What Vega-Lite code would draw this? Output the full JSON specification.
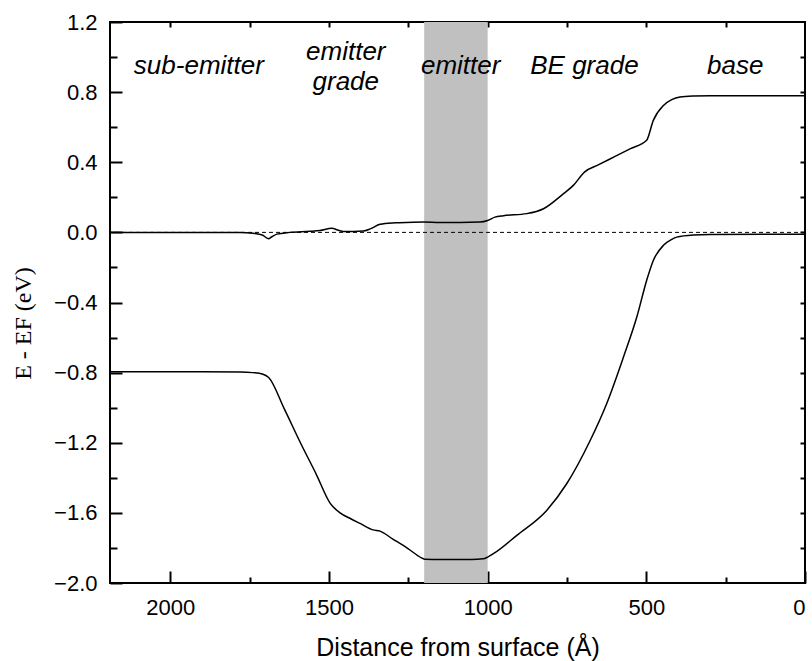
{
  "$schema": "https://vega.github.io/schema/vega-lite/v6.json",
  "width": 695,
  "height": 561,
  "autosize": "none",
  "padding": {"left": 110, "top": 22, "right": 7, "bottom": 78},
  "background": "white",
  "config": {
    "view": {"stroke": "black", "strokeWidth": 2},
    "axis": {
      "grid": false,
      "ticks": true,
      "domain": false,
      "labelFont": "Liberation Sans",
      "labelFontSize": 22,
      "labelColor": "black",
      "tickColor": "black",
      "tickWidth": 2,
      "titleColor": "black",
      "titleFontWeight": "normal",
      "zindex": 2
    }
  },
  "datasets": {
    "layers": [{"start": 1200, "end": 1000}],
    "fermi": [{"v": 0}],
    "bands": [
      {"band": "valence", "x": 2190, "v": -0.795},
      {"band": "valence", "x": 1900, "v": -0.795},
      {"band": "valence", "x": 1780, "v": -0.796},
      {"band": "valence", "x": 1740, "v": -0.8},
      {"band": "valence", "x": 1710, "v": -0.808},
      {"band": "valence", "x": 1690, "v": -0.828},
      {"band": "valence", "x": 1640, "v": -1.01},
      {"band": "valence", "x": 1590, "v": -1.2},
      {"band": "valence", "x": 1540, "v": -1.38},
      {"band": "valence", "x": 1496, "v": -1.546},
      {"band": "valence", "x": 1465, "v": -1.6},
      {"band": "valence", "x": 1430, "v": -1.635},
      {"band": "valence", "x": 1402, "v": -1.66},
      {"band": "valence", "x": 1361, "v": -1.697},
      {"band": "valence", "x": 1339, "v": -1.704},
      {"band": "valence", "x": 1300, "v": -1.748},
      {"band": "valence", "x": 1250, "v": -1.805},
      {"band": "valence", "x": 1210, "v": -1.855},
      {"band": "valence", "x": 1197, "v": -1.865},
      {"band": "valence", "x": 1150, "v": -1.866},
      {"band": "valence", "x": 1050, "v": -1.866},
      {"band": "valence", "x": 1014, "v": -1.862},
      {"band": "valence", "x": 1000, "v": -1.852},
      {"band": "valence", "x": 982, "v": -1.833},
      {"band": "valence", "x": 908, "v": -1.728},
      {"band": "valence", "x": 814, "v": -1.586},
      {"band": "valence", "x": 751, "v": -1.434},
      {"band": "valence", "x": 677, "v": -1.187},
      {"band": "valence", "x": 625, "v": -0.977},
      {"band": "valence", "x": 572, "v": -0.711},
      {"band": "valence", "x": 530, "v": -0.483},
      {"band": "valence", "x": 499, "v": -0.274},
      {"band": "valence", "x": 478, "v": -0.16},
      {"band": "valence", "x": 446, "v": -0.074},
      {"band": "valence", "x": 420, "v": -0.04},
      {"band": "valence", "x": 404, "v": -0.027},
      {"band": "valence", "x": 352, "v": -0.015},
      {"band": "valence", "x": 300, "v": -0.012},
      {"band": "valence", "x": 0, "v": -0.01},
      {"band": "conduction", "x": 2190, "v": 0},
      {"band": "conduction", "x": 1780, "v": 0},
      {"band": "conduction", "x": 1740, "v": -0.005},
      {"band": "conduction", "x": 1710, "v": -0.015},
      {"band": "conduction", "x": 1691, "v": -0.036},
      {"band": "conduction", "x": 1680, "v": -0.025},
      {"band": "conduction", "x": 1664, "v": -0.01},
      {"band": "conduction", "x": 1623, "v": 0},
      {"band": "conduction", "x": 1560, "v": 0.006},
      {"band": "conduction", "x": 1528, "v": 0.011},
      {"band": "conduction", "x": 1491, "v": 0.023},
      {"band": "conduction", "x": 1470, "v": 0.012},
      {"band": "conduction", "x": 1455, "v": 0.005},
      {"band": "conduction", "x": 1392, "v": 0.008},
      {"band": "conduction", "x": 1370, "v": 0.02},
      {"band": "conduction", "x": 1339, "v": 0.046},
      {"band": "conduction", "x": 1300, "v": 0.054},
      {"band": "conduction", "x": 1286, "v": 0.055},
      {"band": "conduction", "x": 1202, "v": 0.059},
      {"band": "conduction", "x": 1150, "v": 0.056},
      {"band": "conduction", "x": 1024, "v": 0.059},
      {"band": "conduction", "x": 1000, "v": 0.068},
      {"band": "conduction", "x": 977, "v": 0.087},
      {"band": "conduction", "x": 950, "v": 0.095},
      {"band": "conduction", "x": 877, "v": 0.107},
      {"band": "conduction", "x": 824, "v": 0.135},
      {"band": "conduction", "x": 761, "v": 0.221},
      {"band": "conduction", "x": 730, "v": 0.268},
      {"band": "conduction", "x": 695, "v": 0.344},
      {"band": "conduction", "x": 650, "v": 0.386},
      {"band": "conduction", "x": 600, "v": 0.432},
      {"band": "conduction", "x": 550, "v": 0.478},
      {"band": "conduction", "x": 499, "v": 0.525},
      {"band": "conduction", "x": 478, "v": 0.639},
      {"band": "conduction", "x": 446, "v": 0.724},
      {"band": "conduction", "x": 420, "v": 0.757},
      {"band": "conduction", "x": 394, "v": 0.772},
      {"band": "conduction", "x": 350, "v": 0.778},
      {"band": "conduction", "x": 299, "v": 0.78},
      {"band": "conduction", "x": 0, "v": 0.78}
    ],
    "regions": [
      {"name": "sub-emitter", "x": 1910, "v": 0.95},
      {"name": "emitter|grade", "x": 1447, "v": 1.03},
      {"name": "emitter", "x": 1085, "v": 0.95},
      {"name": "BE grade", "x": 695, "v": 0.95},
      {"name": "base", "x": 220, "v": 0.95}
    ]
  },
  "layer": [
    {
      "data": {"name": "layers"},
      "mark": {"type": "rect", "color": "#c0c0c0"},
      "encoding": {
        "x": {
          "field": "start",
          "type": "quantitative",
          "scale": {"domain": [0, 2190], "reverse": true, "nice": false, "zero": false},
          "axis": {
            "orient": "bottom",
            "values": [2000, 1500, 1000, 500, 0],
            "format": "d",
            "offset": -12,
            "tickSize": 12,
            "labelPadding": 14,
            "title": "Distance from surface (Å)",
            "titleFont": "Liberation Sans",
            "titleFontSize": 25,
            "titlePadding": 17
          }
        },
        "x2": {"field": "end"}
      }
    },
    {
      "data": {"name": "fermi"},
      "mark": {"type": "rule", "color": "black", "strokeWidth": 1, "strokeDash": [4, 3]},
      "encoding": {
        "y": {
          "field": "v",
          "type": "quantitative",
          "scale": {"domain": [-2, 1.2], "nice": false, "zero": false},
          "axis": {
            "orient": "left",
            "values": [-2, -1.6, -1.2, -0.8, -0.4, 0, 0.4, 0.8, 1.2],
            "format": ".1f",
            "offset": -12,
            "tickSize": 12,
            "labelPadding": 13,
            "title": "E - EF (eV)",
            "titleFont": "Liberation Serif",
            "titleFontSize": 24,
            "titlePadding": 18,
            "titleY": 301
          }
        }
      }
    },
    {
      "data": {"name": "bands"},
      "mark": {"type": "line", "color": "black", "strokeWidth": 1.5, "interpolate": "monotone"},
      "encoding": {
        "x": {
          "field": "x",
          "type": "quantitative",
          "scale": {"domain": [0, 2190], "reverse": true, "nice": false, "zero": false},
          "axis": {
            "orient": "bottom",
            "values": [1750, 1250, 750, 250],
            "labels": false,
            "offset": -6,
            "tickSize": 6,
            "title": null
          }
        },
        "y": {
          "field": "v",
          "type": "quantitative",
          "scale": {"domain": [-2, 1.2], "nice": false, "zero": false},
          "axis": {
            "orient": "left",
            "values": [-1.8, -1.4, -1.0, -0.6, -0.2, 0.2, 0.6, 1.0],
            "labels": false,
            "offset": -7,
            "tickSize": 7,
            "title": null
          }
        },
        "detail": {"field": "band"},
        "order": {"field": "x", "sort": "descending"}
      }
    },
    {
      "data": {"name": "regions"},
      "mark": {
        "type": "text",
        "font": "Liberation Sans",
        "fontSize": 26,
        "fontStyle": "italic",
        "color": "black",
        "lineBreak": "|",
        "lineHeight": 30,
        "align": "center",
        "baseline": "middle"
      },
      "encoding": {
        "x": {
          "field": "x",
          "type": "quantitative",
          "scale": {"domain": [0, 2190], "reverse": true, "nice": false, "zero": false},
          "axis": {
            "orient": "top",
            "values": [250, 500, 750, 1000, 1250, 1500, 1750, 2000],
            "labels": false,
            "offset": -5,
            "tickSize": 5,
            "title": null
          }
        },
        "y": {
          "field": "v",
          "type": "quantitative",
          "scale": {"domain": [-2, 1.2], "nice": false, "zero": false},
          "axis": {
            "orient": "right",
            "values": [-1.8, -1.6, -1.4, -1.2, -1, -0.8, -0.6, -0.4, -0.2, 0, 0.2, 0.4, 0.6, 0.8, 1],
            "labels": false,
            "offset": -5,
            "tickSize": 5,
            "title": null
          }
        },
        "text": {"field": "name"}
      }
    }
  ],
  "resolve": {"axis": {"x": "independent", "y": "independent"}}
}
